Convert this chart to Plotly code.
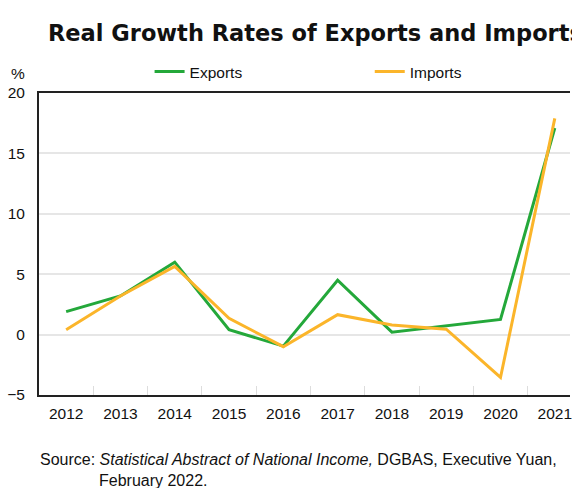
import plotly.graph_objects as go

years = ["2012", "2013", "2014", "2015", "2016", "2017", "2018", "2019", "2020", "2021"]
exports = [1.9, 3.2, 6.0, 0.4, -0.95, 4.5, 0.2, 0.7, 1.25, 17.1]
imports = [0.4, 3.2, 5.65, 1.35, -1.0, 1.65, 0.8, 0.45, -3.55, 17.9]
y_ticks = [-5, 0, 5, 10, 15, 20]

GREEN = "#24a83a"
ORANGE = "#fbb52a"
FONT = "Liberation Sans"
FS = 15.5

fig = go.Figure()
fig.add_trace(go.Scatter(x=years, y=exports, name="Exports", mode="lines",
                         line=dict(color=GREEN, width=3), legend="legend"))
fig.add_trace(go.Scatter(x=years, y=imports, name="Imports", mode="lines",
                         line=dict(color=ORANGE, width=3), legend="legend2"))

leg_common = dict(orientation="h", xanchor="left", y=1+21/302, yanchor="middle",
                  font=dict(size=FS), bgcolor="rgba(0,0,0,0)")
fig.update_layout(
    width=572, height=488,
    margin=dict(l=39, r=0, t=93, b=93),
    paper_bgcolor="white", plot_bgcolor="white",
    font=dict(family=FONT, size=FS, color="#111"),
    title=dict(text="<b>Real Growth Rates of Exports and Imports</b>",
               x=48/572, xanchor="left", xref="container",
               y=1-33/488, yanchor="middle", yref="container",
               font=dict(family="DejaVu Sans", size=22.5, color="#111")),
    legend=dict(x=(150-39)/533, **leg_common),
    legend2=dict(x=(371-39)/533, **leg_common),
    showlegend=True,
)
fig.update_xaxes(
    type="category", range=[-0.5, 9.28], showgrid=False,
    showline=True, linecolor="#222", linewidth=2, mirror=True,
    ticks="inside", tickson="boundaries", ticklen=9, tickcolor="#dddddd", tickwidth=1,
    ticklabelstandoff=3, tickfont=dict(size=FS),
)
fig.update_yaxes(
    range=[-5, 20], tickvals=y_ticks, showgrid=True, gridcolor="#e6e6e6", gridwidth=1.5,
    zeroline=False, showline=True, linecolor="#222", linewidth=2, mirror=False,
    ticks="", ticklabelstandoff=9, tickfont=dict(size=FS),
)
fig.add_annotation(text="%", x=-21/533, xref="paper", xanchor="center",
                   y=1+20/302, yref="paper", yanchor="middle", showarrow=False,
                   font=dict(size=FS))
fig.add_annotation(text="Source: <i>Statistical Abstract of National Income,</i> DGBAS, Executive Yuan,",
                   x=(38-39)/533, xref="paper", xanchor="left",
                   y=-(459-395)/302, yref="paper", yanchor="middle", showarrow=False,
                   font=dict(size=16))
fig.add_annotation(text="February 2022.",
                   x=(97-39)/533, xref="paper", xanchor="left",
                   y=-(481-395)/302, yref="paper", yanchor="middle", showarrow=False,
                   font=dict(size=16))

fig.write_html("out.html")
